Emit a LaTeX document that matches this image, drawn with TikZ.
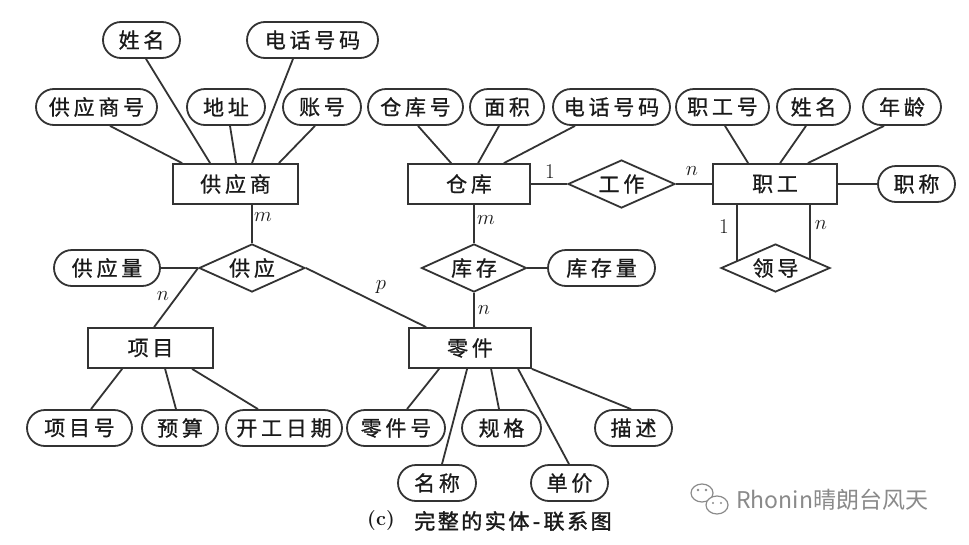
\documentclass[tikz,border=0pt]{standalone}
\usepackage{fontspec}
\usetikzlibrary{shapes.geometric,calc}
\newfontfamily\cjk[LetterSpace=18,FakeBold=0.8]{Noto Sans CJK SC}
\newfontfamily\cjkcap[LetterSpace=12,FakeBold=1.5]{Noto Sans CJK SC}
\newfontfamily\wmfont{Noto Sans CJK SC}
\definecolor{ln}{HTML}{333333}
\definecolor{tx}{HTML}{1a1a1a}
\definecolor{wm}{HTML}{8a8a8a}
\begin{document}
\begin{tikzpicture}[x=1pt,y=-1pt,
  conn/.style={draw=ln, line width=1.8pt},
  ent/.style={draw=ln, line width=1.8pt, rectangle, minimum height=40pt, inner sep=0pt, text=tx, font=\cjk\fontsize{21}{21}\selectfont},
  attr/.style={draw=ln, line width=1.8pt, rectangle, rounded corners=18pt, minimum height=36pt, inner sep=0pt, text=tx, font=\cjk\fontsize{21}{21}\selectfont},
  rel/.style={draw=ln, line width=1.8pt, diamond, aspect=2.2, minimum height=48pt, inner sep=0pt, text=tx, font=\cjk\fontsize{21}{21}\selectfont},
  card/.style={inner sep=1pt, text=tx, font=\fontsize{21}{21}\selectfont}]
\fill[white] (0,0) rectangle (969,544);
\useasboundingbox (0,0) rectangle (969,544);
% entities
\node[ent, minimum width=125pt] (gys) at (235.5,184) {供应商};
\node[ent, minimum width=122pt] (ck) at (469,184) {仓库};
\node[ent, minimum width=124pt] (zg) at (775,184) {职工};
\node[ent, minimum width=125pt] (xm) at (150.5,348) {项目};
\node[ent, minimum width=122pt] (lj) at (470,348) {零件};
% relationships
\node[rel, minimum width=106pt] (gy) at (252,268) {供应};
\node[rel, minimum width=105pt] (kc) at (474,268) {库存};
\node[rel, minimum width=107pt] (gz) at (621.5,184) {工作};
\node[rel, minimum width=109pt] (ld) at (775.5,268) {领导};
% attributes
\node[attr, minimum width=77pt] (a1) at (141.5,40) {姓名};
\node[attr, minimum width=131pt] (a2) at (312.5,40) {电话号码};
\node[attr, minimum width=121pt] (a3) at (96.5,107) {供应商号};
\node[attr, minimum width=78pt] (a4) at (226,107) {地址};
\node[attr, minimum width=78pt] (a5) at (322,107) {账号};
\node[attr, minimum width=95pt] (b1) at (415.5,107) {仓库号};
\node[attr, minimum width=74pt] (b2) at (507,107) {面积};
\node[attr, minimum width=117pt] (b3) at (611.5,107) {电话号码};
\node[attr, minimum width=93pt] (c1) at (722.5,107) {职工号};
\node[attr, minimum width=73pt] (c2) at (813.5,107) {姓名};
\node[attr, minimum width=78pt] (c3) at (902,107) {年龄};
\node[attr, minimum width=77pt] (c4) at (916.5,184) {职称};
\node[attr, minimum width=107pt] (kcl) at (601.5,268) {库存量};
\node[attr, minimum width=106pt] (gyl) at (107,268) {供应量};
\node[attr, minimum width=105pt] (d1) at (79.5,428) {项目号};
\node[attr, minimum width=76pt] (d2) at (180,428) {预算};
\node[attr, minimum width=116pt] (d3) at (284,428) {开工日期};
\node[attr, minimum width=98pt] (e1) at (396,428) {零件号};
\node[attr, minimum width=79pt] (e3) at (501.5,428) {规格};
\node[attr, minimum width=77pt] (e5) at (633.5,428) {描述};
\node[attr, minimum width=78pt] (e2) at (437,483) {名称};
\node[attr, minimum width=77pt] (e4) at (569.5,483) {单价};
% supplier attributes
\draw[conn] ([xshift=13.5pt]a3.south) -- ([xshift=10pt]gys.north west);
\draw[conn] ([xshift=4.5pt]a1.south) -- ([xshift=38pt]gys.north west);
\draw[conn] ([xshift=4pt]a4.south) -- ([xshift=0.5pt]gys.north);
\draw[conn] ([xshift=-19.5pt]a2.south) -- ([xshift=16.5pt]gys.north);
\draw[conn] ([xshift=-7pt]a5.south) -- ([xshift=-20pt]gys.north east);
% warehouse attributes
\draw[conn] ([xshift=2.5pt]b1.south) -- ([xshift=44pt]ck.north west);
\draw[conn] ([xshift=-8pt]b2.south) -- ([xshift=71pt]ck.north west);
\draw[conn] ([xshift=-36.5pt]b3.south) -- ([xshift=-27pt]ck.north east);
% staff attributes
\draw[conn] ([xshift=2.5pt]c1.south) -- ([xshift=36pt]zg.north west);
\draw[conn] ([xshift=-7.5pt]c2.south) -- ([xshift=68pt]zg.north west);
\draw[conn] ([xshift=-18pt]c3.south) -- ([xshift=-30pt]zg.north east);
\draw[conn] (zg.east) -- (c4.west);
% relationships
\draw[conn] (ck.east) -- (gz.west);
\draw[conn] (gz.east) -- (zg.west);
\draw[conn] (kc.north |- ck.south) -- (kc.north);
\draw[conn] (kc.east) -- (kcl.west);
\draw[conn] (kc.south) -- (kc.south |- lj.north);
\coordinate (l1) at ($(ld.west)!0.3!(ld.north)$);
\coordinate (l2) at ($(ld.east)!0.38!(ld.north)$);
\draw[conn] (l1 |- zg.south) -- (l1);
\draw[conn] (l2 |- zg.south) -- (l2);
\draw[conn] (gy.north |- gys.south) -- (gy.north);
\draw[conn] (gyl.east) -- (gy.west);
\draw[conn] (gy.west) -- ([xshift=67pt]xm.north west);
\draw[conn] (gy.east) -- ([xshift=18pt]lj.north west);
% project attributes
\draw[conn] ([xshift=35pt]xm.south west) -- ([xshift=11.5pt]d1.north);
\draw[conn] ([xshift=78pt]xm.south west) -- ([xshift=-4pt]d2.north);
\draw[conn] ([xshift=105pt]xm.south west) -- ([xshift=-26pt]d3.north);
% part attributes
\draw[conn] ([xshift=31pt]lj.south west) -- ([xshift=11pt]e1.north);
\draw[conn] ([xshift=59pt]lj.south west) -- ([xshift=5pt]e2.north);
\draw[conn] ([xshift=83pt]lj.south west) -- ([xshift=-2.5pt]e3.north);
\draw[conn] ([xshift=110pt]lj.south west) -- ([xshift=-0.5pt]e4.north);
\draw[conn] (lj.south east) -- ([xshift=-2.5pt]e5.north);
% cardinalities
\node[card] (k1) at (550,172) {1};
\node[card] (k2) at (692,171) {$n$};
\node[card] (k3) at (486,220) {$m$};
\node[card] (k4) at (484,310) {$n$};
\node[card] (k5) at (724,227) {1};
\node[card] (k6) at (821,225) {$n$};
\node[card] (k7) at (263,217) {$m$};
\node[card] (k8) at (163,296) {$n$};
\node[card] (k9) at (381,287) {$p$};
% caption
\node[inner sep=0pt, text=tx, font=\bfseries\fontsize{20}{20}\selectfont] (cap1) at (381,521) {(c)};
\node[inner sep=0pt, text=tx, font=\cjkcap\fontsize{21}{21}\selectfont] (cap2) at (513,521) {完整的实体\,-\,联系图};
% watermark
\begin{scope}[draw=wm, line width=1.2pt]
  \draw (702,493) ellipse [x radius=11pt, y radius=9pt];
  \filldraw[fill=white] (717,505) ellipse [x radius=11pt, y radius=9pt];
  \fill[wm] (698,490) circle (1.3pt) (706,490) circle (1.3pt) (713,503) circle (1.2pt) (721,503) circle (1.2pt);
\end{scope}
\node[anchor=west, inner sep=0pt, text=wm, font=\wmfont\fontsize{23}{23}\selectfont] (wmt) at (736,500) {Rhonin晴朗台风天};
\end{tikzpicture}
\end{document}
